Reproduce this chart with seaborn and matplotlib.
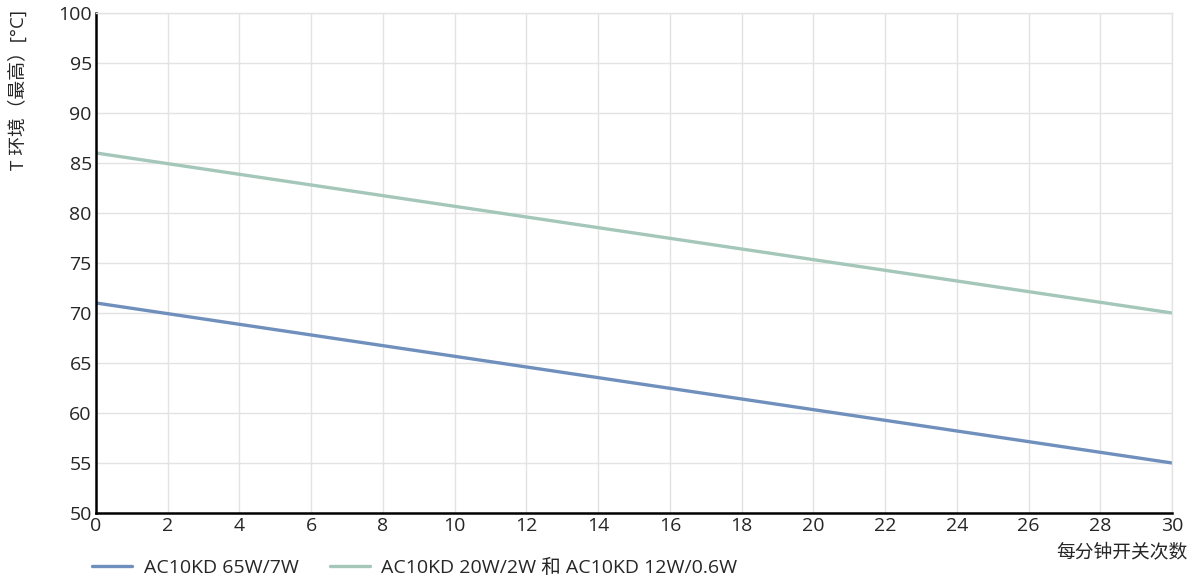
import pandas as pd
import seaborn as sns
import matplotlib.pyplot as plt

# 数据
switches = [0, 30]
temp_65w = [71, 55]
temp_20w = [86, 70]
series_names = ['AC10KD 65W/7W', 'AC10KD 20W/2W 和 AC10KD 12W/0.6W']
colors = ['#6f8fbd', '#a4c7ba']

df = pd.DataFrame({
    'x': switches * 2,
    'y': temp_65w + temp_20w,
    'series': [series_names[0]] * 2 + [series_names[1]] * 2,
})

sns.set_style('white')
plt.rcParams['font.family'] = ['Open Sans', 'Noto Sans CJK SC', 'DejaVu Sans']

fig = plt.figure(figsize=(11.95, 5.82), dpi=100)
ax = fig.add_axes([0.0803, 0.1186, 0.9005, 0.8591])

sns.lineplot(data=df, x='x', y='y', hue='series', palette=colors,
             linewidth=2.4, ax=ax, legend=True)

ax.set_xlim(0, 30)
ax.set_ylim(50, 100)
ax.set_xticks(range(0, 31, 2))
ax.set_yticks(range(50, 101, 5))
ax.grid(True, color='#e3e3e3', linewidth=1)
ax.set_axisbelow(True)

for s in ['top', 'right']:
    ax.spines[s].set_color('#e3e3e3')
    ax.spines[s].set_linewidth(1)
for s in ['left', 'bottom']:
    ax.spines[s].set_color('black')
    ax.spines[s].set_linewidth(1.8)

ax.tick_params(direction='in', length=5, width=1.8, color='black',
               labelsize=14, pad=3)
ax.set_xlabel('每分钟开关次数', fontsize=13.5)
ax.xaxis.set_label_coords(1.014, -0.078)
ax.xaxis.label.set_horizontalalignment('right')
ax.xaxis.label.set_verticalalignment('center')
ax.set_ylabel('T 环境（最高）[°C]', fontsize=13.5)
ax.yaxis.set_label_coords(-0.072, 1.006)
ax.yaxis.label.set_verticalalignment('center')
ax.yaxis.label.set_horizontalalignment('right')

ax.legend(loc='center left', bbox_to_anchor=(-0.004, -0.11), ncol=2,
          frameon=False, fontsize=14, handlelength=2.1, handletextpad=0.57,
          columnspacing=1.6, borderpad=0, borderaxespad=0, title=None)

fig.savefig('out.png', dpi=100)
